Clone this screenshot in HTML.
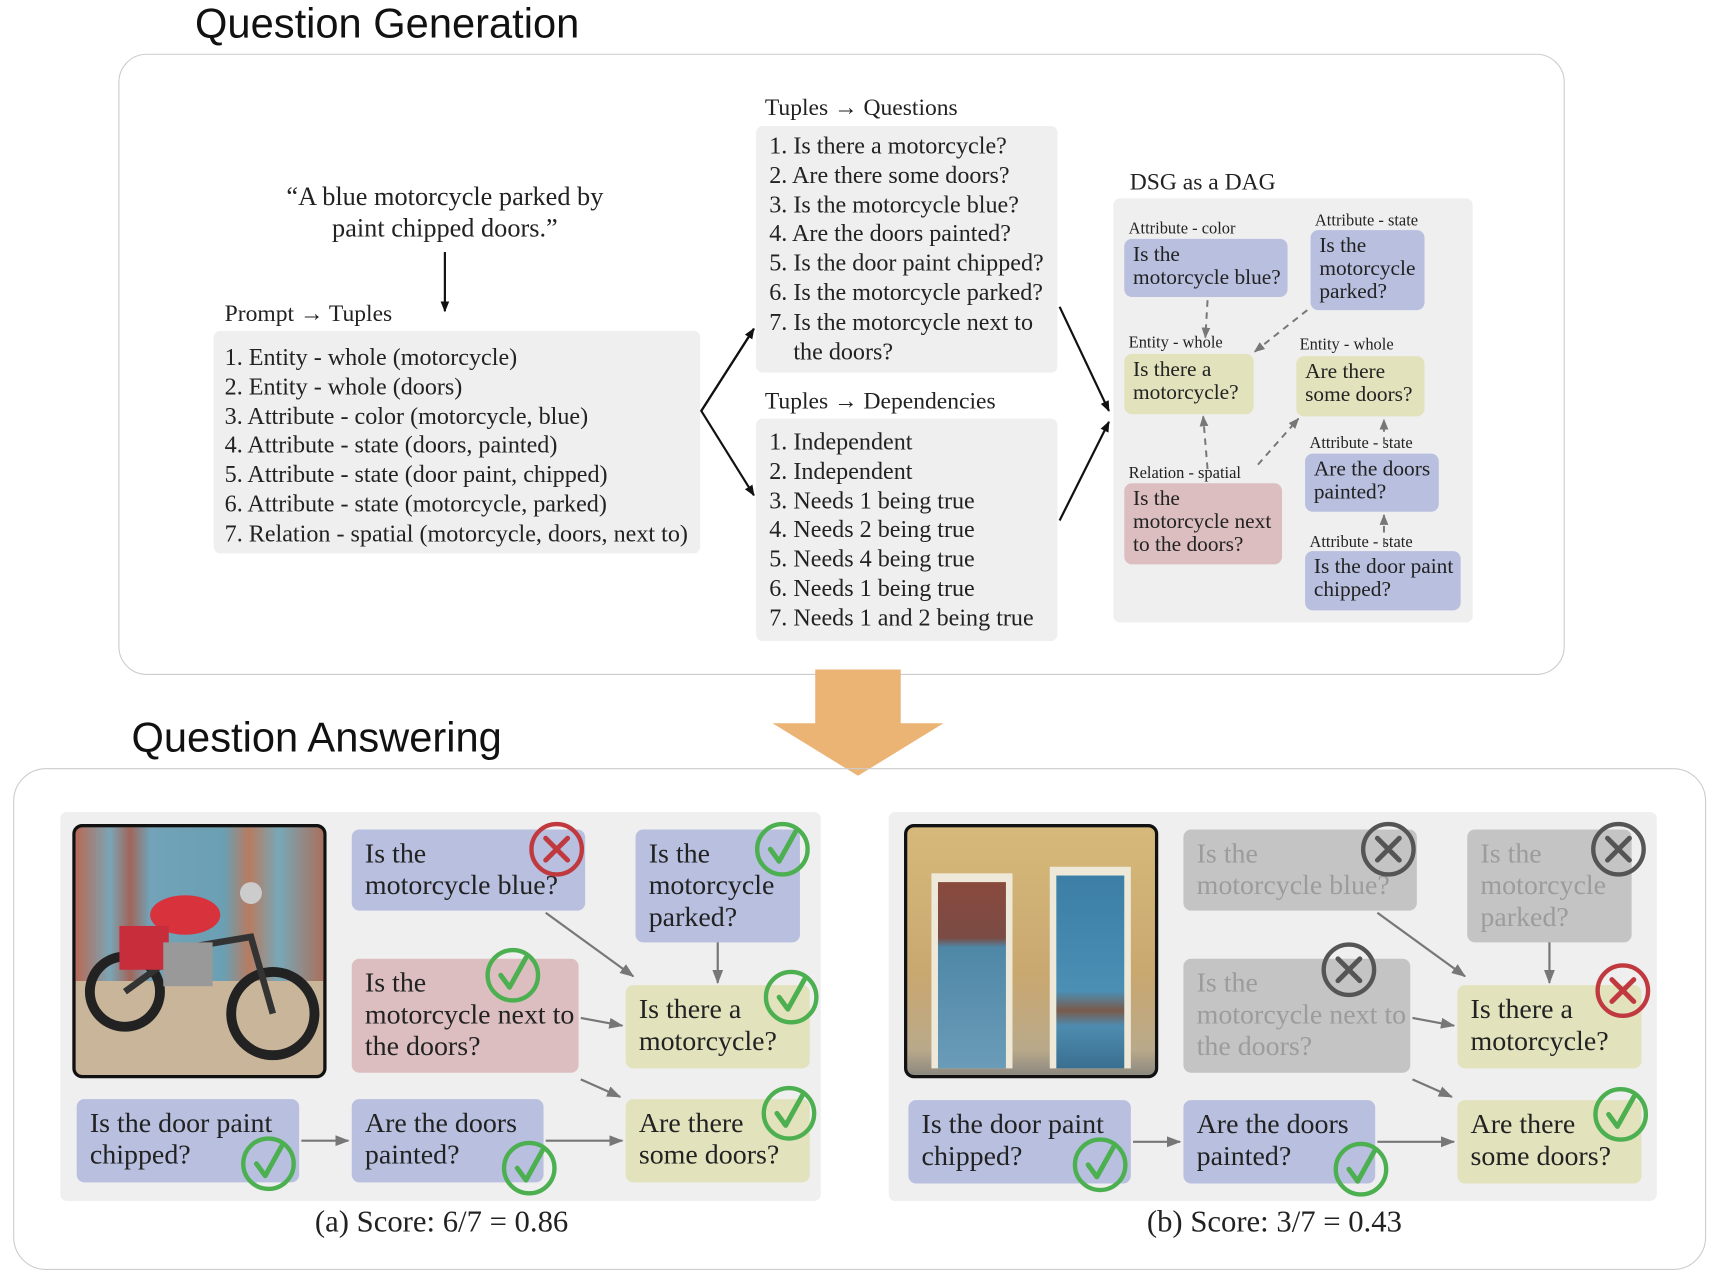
<!DOCTYPE html>
<html><head><meta charset="utf-8"><style>
html,body{margin:0;padding:0;background:#fff;width:1716px;height:1280px;overflow:hidden}
#w{position:absolute;left:0;top:0;width:1566px;height:1168px;transform:scale(1.09578);transform-origin:0 0;font-family:"Liberation Serif",serif;color:#222}
.a{position:absolute}
.t{font-family:"Liberation Sans",sans-serif;font-size:38px;color:#111}
.g{background:#efefef;border-radius:6px}
.l{font-size:22px;line-height:26.8px;white-space:nowrap}
.h{font-size:21.5px;white-space:nowrap}
.n{position:absolute;border-radius:7px;font-size:19.5px;line-height:21px;padding:4px 8px;box-sizing:border-box;white-space:nowrap}
.s{position:absolute;font-size:15px;white-space:nowrap}
.B{background:#b8bfdf}.Y{background:#e2e2bd}.P{background:#dcbec0}.G{background:#c4c4c4;color:#9c9c9c}
.m{position:absolute;border-radius:7px;font-size:25.5px;line-height:29px;padding:7px 12px;box-sizing:border-box;white-space:nowrap}
</style></head><body><div id="w">
<div class="a t" style="left:178px;top:1px">Question Generation</div>
<div class="a" style="left:108px;top:49px;width:1318px;height:565px;border:1.5px solid #ccc;border-radius:26px"></div>
<div class="a" style="left:206px;top:166px;width:400px;text-align:center;font-size:24px;line-height:29px">“A blue motorcycle parked by<br>paint chipped doors.”</div>
<div class="a h" style="left:205px;top:274px">Prompt → Tuples</div>
<div class="a g" style="left:195px;top:302px;width:444px;height:203px"></div>
<div class="a l" style="left:205px;top:313px">1. Entity - whole (motorcycle)<br>2. Entity - whole (doors)<br>3. Attribute - color (motorcycle, blue)<br>4. Attribute - state (doors, painted)<br>5. Attribute - state (door paint, chipped)<br>6. Attribute - state (motorcycle, parked)<br>7. Relation - spatial (motorcycle, doors, next to)</div>
<div class="a h" style="left:698px;top:86px">Tuples → Questions</div>
<div class="a g" style="left:690px;top:115px;width:275px;height:225px"></div>
<div class="a l" style="left:702px;top:120px">1. Is there a motorcycle?<br>2. Are there some doors?<br>3. Is the motorcycle blue?<br>4. Are the doors painted?<br>5. Is the door paint chipped?<br>6. Is the motorcycle parked?<br>7. Is the motorcycle next to<br>&nbsp;&nbsp;&nbsp;&nbsp;the doors?</div>
<div class="a h" style="left:698px;top:354px">Tuples → Dependencies</div>
<div class="a g" style="left:690px;top:382px;width:275px;height:203px"></div>
<div class="a l" style="left:702px;top:390px">1. Independent<br>2. Independent<br>3. Needs 1 being true<br>4. Needs 2 being true<br>5. Needs 4 being true<br>6. Needs 1 being true<br>7. Needs 1 and 2 being true</div>
<div class="a h" style="left:1031px;top:154px">DSG as a DAG</div>
<div class="a g" style="left:1016px;top:181px;width:328px;height:387px"></div>
<div class="s" style="left:1030px;top:201px">Attribute - color</div>
<div class="n B" style="left:1026px;top:218px;width:149px;height:53px">Is the<br>motorcycle blue?</div>
<div class="s" style="left:1200px;top:194px">Attribute - state</div>
<div class="n B" style="left:1196px;top:210px;width:104px;height:73px">Is the<br>motorcycle<br>parked?</div>
<div class="s" style="left:1030px;top:305px">Entity - whole</div>
<div class="n Y" style="left:1026px;top:323px;width:118px;height:55px">Is there a<br>motorcycle?</div>
<div class="s" style="left:1186px;top:307px">Entity - whole</div>
<div class="n Y" style="left:1183px;top:325px;width:117px;height:55px">Are there<br>some doors?</div>
<div class="s" style="left:1030px;top:424px">Relation - spatial</div>
<div class="n P" style="left:1026px;top:441px;width:144px;height:74px">Is the<br>motorcycle next<br>to the doors?</div>
<div class="s" style="left:1195px;top:397px">Attribute - state</div>
<div class="n B" style="left:1191px;top:414px;width:122px;height:53px">Are the doors<br>painted?</div>
<div class="s" style="left:1195px;top:487px">Attribute - state</div>
<div class="n B" style="left:1191px;top:503px;width:142px;height:54px">Is the door paint<br>chipped?</div>

<div class="a" style="left:744px;top:611px;width:78px;height:50px;background:#ebb374"></div>
<div class="a" style="left:705px;top:660px;width:0;height:0;border-left:78px solid transparent;border-right:78px solid transparent;border-top:48px solid #ebb374"></div>
<div class="a t" style="left:120px;top:653px">Question Answering</div>
<div class="a" style="left:12px;top:701px;width:1543px;height:456px;border:1.5px solid #ccc;border-radius:30px"></div>

<div class="a g" style="left:55px;top:741px;width:694px;height:355px"></div>
<div class="a" style="left:66px;top:752px;width:226px;height:226px;border:3px solid #111;border-radius:9px;overflow:hidden;background:linear-gradient(180deg,transparent 62%,#c9b59a 62%),linear-gradient(90deg,#b86a55 0,#7aa5b5 14%,#a0655a 22%,#72a3b8 30%,#6b9fb3 60%,#b77b60 70%,#78a8b8 82%,#a9705c 100%)">
<svg width="226" height="226" style="position:absolute;left:0;top:0"><circle cx="45" cy="150" r="32" fill="none" stroke="#222" stroke-width="9"/><circle cx="180" cy="170" r="38" fill="none" stroke="#222" stroke-width="9"/><path d="M45 150 L100 110 L160 100 L180 170" stroke="#333" stroke-width="6" fill="none"/><ellipse cx="100" cy="80" rx="32" ry="18" fill="#d8323d"/><rect x="40" y="90" width="45" height="40" fill="#c72d3a"/><rect x="80" y="105" width="45" height="40" fill="#999"/><circle cx="160" cy="60" r="10" fill="#ccc"/></svg></div>
<div class="m B" style="left:321px;top:757px;width:213px;height:74px">Is the<br>motorcycle blue?</div>
<div class="m B" style="left:580px;top:757px;width:150px;height:103px">Is the<br>motorcycle<br>parked?</div>
<div class="m P" style="left:321px;top:875px;width:207px;height:104px">Is the<br>motorcycle next to<br>the doors?</div>
<div class="m Y" style="left:571px;top:899px;width:168px;height:76px">Is there a<br>motorcycle?</div>
<div class="m B" style="left:70px;top:1003px;width:203px;height:76px">Is the door paint<br>chipped?</div>
<div class="m B" style="left:321px;top:1003px;width:175px;height:76px">Are the doors<br>painted?</div>
<div class="m Y" style="left:571px;top:1003px;width:168px;height:76px">Are there<br>some doors?</div>
<div class="a" style="left:233px;top:1100px;width:340px;text-align:center;font-size:28px">(a) Score: 6/7 = 0.86</div>

<div class="a g" style="left:811px;top:741px;width:701px;height:355px"></div>
<div class="a" style="left:825px;top:752px;width:226px;height:226px;border:3px solid #111;border-radius:9px;overflow:hidden;background:linear-gradient(180deg,#d6b97a 0,#c9a870 60%,#b9a98a 90%,#8c8880 100%)">
<div class="a" style="left:22px;top:42px;width:74px;height:178px;background:#eee8d8"></div>
<div class="a" style="left:28px;top:50px;width:62px;height:170px;background:linear-gradient(180deg,#8a4a3e 0,#7a4b45 30%,#4f87a7 35%,#6a9cb8 100%)"></div>
<div class="a" style="left:130px;top:36px;width:74px;height:184px;background:#eee8d8"></div>
<div class="a" style="left:136px;top:44px;width:62px;height:176px;background:linear-gradient(180deg,#3c7ea6 0,#4b8fb5 60%,#7a5a4a 70%,#4d8cb0 78%,#3a6f90 100%)"></div>
</div>
<div class="m G" style="left:1080px;top:757px;width:213px;height:74px">Is the<br>motorcycle blue?</div>
<div class="m G" style="left:1339px;top:757px;width:150px;height:103px">Is the<br>motorcycle<br>parked?</div>
<div class="m G" style="left:1080px;top:875px;width:207px;height:104px">Is the<br>motorcycle next to<br>the doors?</div>
<div class="m Y" style="left:1330px;top:899px;width:168px;height:76px">Is there a<br>motorcycle?</div>
<div class="m B" style="left:829px;top:1004px;width:203px;height:76px">Is the door paint<br>chipped?</div>
<div class="m B" style="left:1080px;top:1004px;width:175px;height:76px">Are the doors<br>painted?</div>
<div class="m Y" style="left:1330px;top:1004px;width:168px;height:76px">Are there<br>some doors?</div>
<div class="a" style="left:993px;top:1100px;width:340px;text-align:center;font-size:28px">(b) Score: 3/7 = 0.43</div>

<svg class="a" style="left:0;top:0" width="1566" height="1168">
<defs>
<marker id="k" markerWidth="10" markerHeight="10" refX="9" refY="5" orient="auto" markerUnits="userSpaceOnUse"><path d="M0 1 L10 5 L0 9z" fill="#111"/></marker>
<marker id="d" markerWidth="10" markerHeight="10" refX="9" refY="5" orient="auto" markerUnits="userSpaceOnUse"><path d="M0 1 L10 5 L0 9z" fill="#777"/></marker>
<marker id="h" markerWidth="14" markerHeight="12" refX="12" refY="6" orient="auto" markerUnits="userSpaceOnUse"><path d="M0 1 L13 6 L0 11z" fill="#777"/></marker>
<g id="ck"><circle r="23" fill="none" stroke="#4caf50" stroke-width="4"/><path d="M-11 0 L-3 11 L12 -16" fill="none" stroke="#4caf50" stroke-width="4.5" stroke-linecap="round" stroke-linejoin="round"/></g>
<g id="xr"><circle r="23" fill="none" stroke="#c0393f" stroke-width="4"/><path d="M-10 -10 L10 10 M10 -10 L-10 10" stroke="#c0393f" stroke-width="4.5" stroke-linecap="round"/></g>
<g id="xg"><circle r="23" fill="none" stroke="#555" stroke-width="4"/><path d="M-10 -10 L10 10 M10 -10 L-10 10" stroke="#555" stroke-width="4.5" stroke-linecap="round"/></g>
</defs>
<g stroke="#111" stroke-width="2" fill="none">
<line x1="406" y1="230" x2="406" y2="284" marker-end="url(#k)"/>
<polyline points="688,300 640,375 688,452" marker-end="url(#k)"/>
<line x1="640" y1="375" x2="688" y2="300" marker-end="url(#k)"/>
<line x1="967" y1="280" x2="1012" y2="375" marker-end="url(#k)"/>
<line x1="967" y1="475" x2="1012" y2="385" marker-end="url(#k)"/>
</g>
<g stroke="#777" stroke-width="1.8" stroke-dasharray="6,5" fill="none">
<line x1="1102" y1="274" x2="1100" y2="308" marker-end="url(#d)"/>
<line x1="1193" y1="283" x2="1145" y2="321" marker-end="url(#d)"/>
<line x1="1102" y1="428" x2="1098" y2="380" marker-end="url(#d)"/>
<line x1="1148" y1="424" x2="1185" y2="382" marker-end="url(#d)"/>
<line x1="1263" y1="405" x2="1263" y2="383" marker-end="url(#d)"/>
<line x1="1263" y1="497" x2="1263" y2="470" marker-end="url(#d)"/>
</g>
<g stroke="#777" stroke-width="2" fill="none">
<line x1="498" y1="833" x2="578" y2="891" marker-end="url(#h)"/>
<line x1="655" y1="860" x2="655" y2="897" marker-end="url(#h)"/>
<line x1="530" y1="929" x2="568" y2="936" marker-end="url(#h)"/>
<line x1="530" y1="985" x2="566" y2="1001" marker-end="url(#h)"/>
<line x1="275" y1="1041" x2="318" y2="1041" marker-end="url(#h)"/>
<line x1="498" y1="1041" x2="568" y2="1041" marker-end="url(#h)"/>
<line x1="1257" y1="833" x2="1337" y2="891" marker-end="url(#h)"/>
<line x1="1414" y1="860" x2="1414" y2="897" marker-end="url(#h)"/>
<line x1="1289" y1="929" x2="1327" y2="936" marker-end="url(#h)"/>
<line x1="1289" y1="985" x2="1325" y2="1001" marker-end="url(#h)"/>
<line x1="1034" y1="1042" x2="1077" y2="1042" marker-end="url(#h)"/>
<line x1="1257" y1="1042" x2="1327" y2="1042" marker-end="url(#h)"/>
</g>
<use href="#xr" x="508" y="775"/>
<use href="#ck" x="714" y="775"/>
<use href="#ck" x="468" y="890"/>
<use href="#ck" x="722" y="910"/>
<use href="#ck" x="245" y="1062"/>
<use href="#ck" x="483" y="1066"/>
<use href="#ck" x="720" y="1016"/>
<use href="#xg" x="1267" y="775"/>
<use href="#xg" x="1477" y="775"/>
<use href="#xg" x="1231" y="885"/>
<use href="#xr" x="1481" y="904"/>
<use href="#ck" x="1004" y="1063"/>
<use href="#ck" x="1242" y="1067"/>
<use href="#ck" x="1479" y="1017"/>
</svg>
</div></body></html>
